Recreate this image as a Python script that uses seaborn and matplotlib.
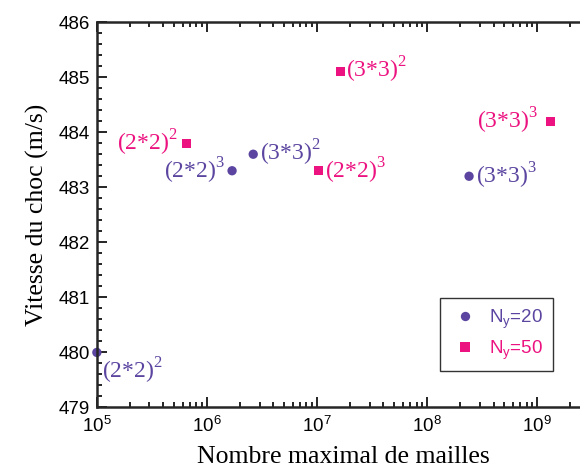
import numpy as np
import pandas as pd
import seaborn as sns
import matplotlib.pyplot as plt
from matplotlib.ticker import LogLocator, MultipleLocator, NullFormatter

# data
mailles_20 = [1.0e5, 1.69e6, 2.63e6, 2.4e8]
vitesse_20 = [480.0, 483.3, 483.6, 483.2]
labels_20 = ["(2*2)$^2$", "(2*2)$^3$", "(3*3)$^2$", "(3*3)$^3$"]

mailles_50 = [6.5e5, 1.03e7, 1.64e7, 1.32e9]
vitesse_50 = [483.8, 483.3, 485.1, 484.2]
labels_50 = ["(2*2)$^2$", "(2*2)$^3$", "(3*3)$^2$", "(3*3)$^3$"]

series = ["N$_\\mathsf{y}$=20", "N$_\\mathsf{y}$=50"]
colors = ["#5b45a0", "#ec1380"]

sns.set_style("ticks")
plt.rcParams["font.family"] = ["Liberation Sans", "DejaVu Sans"]
plt.rcParams["mathtext.fontset"] = "custom"
plt.rcParams["mathtext.rm"] = "Liberation Serif"
plt.rcParams["mathtext.sf"] = "Liberation Sans"
plt.rcParams["text.color"] = "black"
plt.rcParams["xtick.color"] = "black"
plt.rcParams["ytick.color"] = "black"
plt.rcParams["axes.labelcolor"] = "black"

df = pd.DataFrame({
    "mailles": mailles_20 + mailles_50,
    "vitesse": vitesse_20 + vitesse_50,
    "serie": [series[0]] * 4 + [series[1]] * 4,
    "label": labels_20 + labels_50,
})

fig = plt.figure(figsize=(5.8, 4.7), dpi=100)
ax = fig.add_axes([0.167, 0.133, 0.85, 0.82])

sns.scatterplot(data=df, x="mailles", y="vitesse", hue="serie", style="serie",
                palette=colors, markers=["o", "s"], s=45, linewidth=0,
                ax=ax, legend=True)
for coll in ax.collections:
    coll.set_clip_on(False)

ax.set_xscale("log")
ax.set_xlim(1e5, 3e9)
ax.set_ylim(479, 486)

# label offsets (points) and alignment per point
offsets = [(4, -13, "left"), (-5, 0, "right"), (5, 1, "left"), (5, 0, "left"),
           (-6, 0, "right"), (5, 0, "left"), (4, 1, "left"), (-9, 0, "right")]
for (i, row), (dx, dy, ha) in zip(df.iterrows(), offsets):
    c = colors[0] if row["serie"] == series[0] else colors[1]
    ax.annotate(row["label"], (row["mailles"], row["vitesse"]),
                xytext=(dx, dy), textcoords="offset points",
                ha=ha, va="center", color=c, fontsize=17,
                family="Liberation Serif")

ax.xaxis.set_major_locator(LogLocator(base=10, numticks=10))
ax.xaxis.set_minor_locator(LogLocator(base=10, subs=np.arange(2, 10), numticks=100))
ax.xaxis.set_minor_formatter(NullFormatter())
ax.yaxis.set_major_locator(MultipleLocator(1))
ax.yaxis.set_minor_locator(MultipleLocator(0.2))
ax.tick_params(which="both", direction="in", top=True, right=True, width=1.2,
               labelsize=13.5)
ax.tick_params(axis="x", which="major", pad=6)
ax.tick_params(axis="y", which="major", pad=5)
ax.tick_params(which="major", length=7)
ax.tick_params(which="minor", length=3.5)
for sp in ax.spines.values():
    sp.set_linewidth(1.8)

ax.set_xlabel("Nombre maximal de mailles", family="Liberation Serif",
              fontsize=18.5, labelpad=7)
ax.set_ylabel("Vitesse du choc (m/s)", family="Liberation Serif",
              fontsize=18.5, labelpad=7)

handles, labs = ax.get_legend_handles_labels()
leg = ax.legend(handles, labs, loc="upper left", bbox_to_anchor=(0.697, 0.285),
                frameon=True, fancybox=False, edgecolor="black",
                fontsize=13.5, handlelength=1.6, handletextpad=0.5,
                borderpad=0.5, labelspacing=0.4, borderaxespad=0)
leg.get_frame().set_linewidth(1.0)
for t, c in zip(leg.get_texts(), colors):
    t.set_color(c)

fig.savefig("out.png", dpi=100)
